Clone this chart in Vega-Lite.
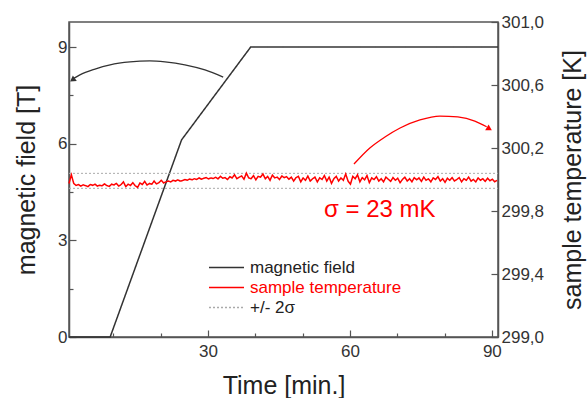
{
  "$schema": "https://vega.github.io/schema/vega-lite/v6.json",
  "width": 429,
  "height": 315,
  "autosize": {"type": "none"},
  "padding": {"left": 69, "top": 22, "right": 90, "bottom": 61},
  "background": "white",
  "config": {
    "font": "Liberation Sans",
    "view": {"stroke": "#555555", "strokeWidth": 1.5},
    "axis": {
      "domainColor": "#555555", "domainWidth": 1.5, "tickColor": "#555555", "tickWidth": 1.2,
      "labelFont": "Liberation Sans", "labelFontSize": 17, "labelColor": "#333333",
      "titleFont": "Liberation Sans", "titleFontSize": 25, "titleFontWeight": "normal", "titleColor": "#222222",
      "grid": false
    },
    "legend": {
      "orient": "none", "legendX": 139, "legendY": 237, "title": null,
      "symbolType": "stroke", "symbolSize": 1225, "symbolStrokeWidth": 1.5,
      "labelFont": "Liberation Sans", "labelFontSize": 17, "labelOffset": 5, "rowPadding": 2, "clipHeight": 17
    }
  },
  "datasets": {
    "field": [
      {"t": 0.6, "v": 0, "series": "magnetic field"},
      {"t": 9.3, "v": 0, "series": "magnetic field"},
      {"t": 24.4, "v": 6.12, "series": "magnetic field"},
      {"t": 39.0, "v": 9.0, "series": "magnetic field"},
      {"t": 91.3, "v": 9.0, "series": "magnetic field"}
    ],
    "arcB": [
      {"t": 33.2, "v": 8.07}, {"t": 29.35, "v": 8.29}, {"t": 25.1, "v": 8.45}, {"t": 20.9, "v": 8.54},
      {"t": 17.7, "v": 8.57}, {"t": 13.5, "v": 8.54}, {"t": 9.3, "v": 8.45}, {"t": 6.1, "v": 8.32},
      {"t": 2.9, "v": 8.14}, {"t": 1.6, "v": 8.03}
    ],
    "headB": [{"t": 1.5, "v": 8.0}],
    "arcR": [
      {"t": 60.85, "T": 300.098}, {"t": 64.2, "T": 300.2}, {"t": 67.4, "T": 300.27}, {"t": 70.6, "T": 300.327},
      {"t": 74.8, "T": 300.378}, {"t": 79.0, "T": 300.403}, {"t": 82.8, "T": 300.397}, {"t": 86.4, "T": 300.371},
      {"t": 88.9, "T": 300.335}
    ],
    "headR": [{"t": 89.3, "T": 300.325}],
    "note": [{"t": 66.3, "T": 299.806, "label": "σ = 23 mK"}],
    "sigma": [
      {"t": 0.6, "T": 300.039, "series": "+/- 2σ", "g": "hi"},
      {"t": 91.3, "T": 300.039, "series": "+/- 2σ", "g": "hi"},
      {"t": 0.6, "T": 299.944, "series": "+/- 2σ", "g": "lo"},
      {"t": 91.3, "T": 299.944, "series": "+/- 2σ", "g": "lo"}
    ],
    "temp": [
      {"t":0.6,"T":299.975},{"t":1.1,"T":300.03},{"t":1.6,"T":299.975},{"t":2.1,"T":299.962},{"t":2.6,"T":299.968},
      {"t":3.1,"T":299.958},{"t":3.6,"T":299.966},{"t":4.1,"T":299.961},{"t":4.6,"T":299.955},{"t":5.1,"T":299.968},
      {"t":5.6,"T":299.963},{"t":6.1,"T":299.97},{"t":6.6,"T":299.958},{"t":7.1,"T":299.964},{"t":7.6,"T":299.96},
      {"t":8.1,"T":299.972},{"t":8.6,"T":299.962},{"t":9.1,"T":299.956},{"t":9.6,"T":299.97},{"t":10.1,"T":299.965},
      {"t":10.6,"T":299.975},{"t":11.1,"T":299.958},{"t":11.6,"T":299.968},{"t":12.1,"T":299.985},{"t":12.6,"T":299.955},
      {"t":13.1,"T":299.97},{"t":13.6,"T":299.962},{"t":14.1,"T":299.98},{"t":14.6,"T":299.96},{"t":15.1,"T":299.95},
      {"t":15.6,"T":299.978},{"t":16.1,"T":299.968},{"t":16.6,"T":299.988},{"t":17.1,"T":299.965},{"t":17.6,"T":299.975},
      {"t":18.1,"T":299.97},{"t":18.6,"T":299.99},{"t":19.1,"T":299.972},{"t":19.6,"T":299.98},{"t":20.1,"T":299.995},
      {"t":20.6,"T":299.978},{"t":21.1,"T":299.985},{"t":21.6,"T":299.99},{"t":22.1,"T":299.985},{"t":22.6,"T":299.995},
      {"t":23.1,"T":299.99},{"t":23.6,"T":299.998},{"t":24.1,"T":299.99},{"t":24.6,"T":299.993},{"t":25.1,"T":300.0},
      {"t":25.6,"T":299.995},{"t":26.1,"T":300.003},{"t":26.6,"T":299.998},{"t":27.1,"T":300.005},{"t":27.6,"T":300.0},
      {"t":28.1,"T":300.01},{"t":28.6,"T":300.002},{"t":29.1,"T":300.008},{"t":29.6,"T":300.012},{"t":30.1,"T":300.004},
      {"t":30.6,"T":300.01},{"t":31.1,"T":300.006},{"t":31.6,"T":300.014},{"t":32.1,"T":300.004},{"t":32.6,"T":300.02},
      {"t":33.1,"T":300.008},{"t":33.6,"T":300.012},{"t":34.1,"T":300.0},{"t":34.6,"T":300.018},{"t":35.1,"T":300.01},
      {"t":35.6,"T":300.03},{"t":36.1,"T":300.005},{"t":36.6,"T":300.015},{"t":37.1,"T":300.022},{"t":37.6,"T":300.002},
      {"t":38.1,"T":300.04},{"t":38.6,"T":300.01},{"t":39.1,"T":300.005},{"t":39.6,"T":300.025},{"t":40.1,"T":299.998},
      {"t":40.6,"T":300.02},{"t":41.1,"T":300.015},{"t":41.6,"T":300.035},{"t":42.1,"T":300.005},{"t":42.6,"T":300.02},
      {"t":43.1,"T":299.995},{"t":43.6,"T":300.028},{"t":44.1,"T":300.01},{"t":44.6,"T":300.015},{"t":45.1,"T":300.0},
      {"t":45.6,"T":300.022},{"t":46.1,"T":300.012},{"t":46.6,"T":300.018},{"t":47.1,"T":300.002},{"t":47.6,"T":300.015},
      {"t":48.1,"T":299.99},{"t":48.6,"T":300.012},{"t":49.1,"T":300.02},{"t":49.6,"T":299.985},{"t":50.1,"T":300.01},
      {"t":50.6,"T":299.995},{"t":51.1,"T":300.022},{"t":51.6,"T":299.99},{"t":52.1,"T":300.005},{"t":52.6,"T":300.015},
      {"t":53.1,"T":299.985},{"t":53.6,"T":300.01},{"t":54.1,"T":300.0},{"t":54.6,"T":300.025},{"t":55.1,"T":299.99},
      {"t":55.6,"T":300.015},{"t":56.1,"T":299.975},{"t":56.6,"T":300.005},{"t":57.1,"T":300.02},{"t":57.6,"T":299.99},
      {"t":58.1,"T":300.01},{"t":58.6,"T":299.995},{"t":59.1,"T":300.035},{"t":59.6,"T":299.99},{"t":60.1,"T":299.97},
      {"t":60.6,"T":300.02},{"t":61.1,"T":300.005},{"t":61.6,"T":300.03},{"t":62.1,"T":299.985},{"t":62.6,"T":300.012},
      {"t":63.1,"T":299.998},{"t":63.6,"T":300.025},{"t":64.1,"T":299.98},{"t":64.6,"T":300.01},{"t":65.1,"T":300.0},
      {"t":65.6,"T":300.018},{"t":66.1,"T":299.99},{"t":66.6,"T":300.005},{"t":67.1,"T":299.985},{"t":67.6,"T":300.015},
      {"t":68.1,"T":300.002},{"t":68.6,"T":299.988},{"t":69.1,"T":300.012},{"t":69.6,"T":299.995},{"t":70.1,"T":300.008},
      {"t":70.6,"T":299.98},{"t":71.1,"T":300.0},{"t":71.6,"T":300.015},{"t":72.1,"T":299.99},{"t":72.6,"T":300.005},
      {"t":73.1,"T":299.985},{"t":73.6,"T":300.012},{"t":74.1,"T":299.998},{"t":74.6,"T":300.01},{"t":75.1,"T":299.988},
      {"t":75.6,"T":300.015},{"t":76.1,"T":299.995},{"t":76.6,"T":300.004},{"t":77.1,"T":299.985},{"t":77.6,"T":300.01},
      {"t":78.1,"T":300.0},{"t":78.6,"T":300.018},{"t":79.1,"T":299.99},{"t":79.6,"T":300.005},{"t":80.1,"T":299.982},
      {"t":80.6,"T":300.008},{"t":81.1,"T":299.995},{"t":81.6,"T":300.012},{"t":82.1,"T":299.99},{"t":82.6,"T":300.0},
      {"t":83.1,"T":300.012},{"t":83.6,"T":299.985},{"t":84.1,"T":300.005},{"t":84.6,"T":299.995},{"t":85.1,"T":300.015},
      {"t":85.6,"T":299.99},{"t":86.1,"T":300.0},{"t":86.6,"T":299.985},{"t":87.1,"T":300.01},{"t":87.6,"T":299.995},
      {"t":88.1,"T":300.005},{"t":88.6,"T":299.988},{"t":89.1,"T":300.008},{"t":89.6,"T":299.992},{"t":90.1,"T":300.002},
      {"t":90.6,"T":299.985},{"t":91.1,"T":299.995}
    ]
  },
  "resolve": {"scale": {"y": "independent"}},
  "layer": [
    {
      "layer": [
        {
          "data": {"name": "field"},
          "mark": {"type": "line", "strokeWidth": 1.5},
          "encoding": {
            "x": {"field": "t", "type": "quantitative", "scale": {"domain": [0.6, 91.3], "nice": false, "zero": false},
              "title": "Time [min.]",
              "axis": {"values": [10, 20, 30, 40, 50, 60, 70, 80, 90],
                "labelExpr": "datum.value % 30 === 0 ? datum.label : ''",
                "tickSize": {"condition": {"test": "datum.value % 30 === 0", "value": -7}, "value": -4},
                "labelPadding": 13, "titlePadding": 11, "labelFlush": false, "labelOverlap": false}},
            "y": {"field": "v", "type": "quantitative", "scale": {"domain": [0, 9.78], "nice": false, "zero": false},
              "title": "magnetic field [T]",
              "axis": {"orient": "left", "values": [0, 1.5, 3, 4.5, 6, 7.5, 9],
                "labelExpr": "datum.value % 3 === 0 ? datum.label : ''",
                "tickSize": {"condition": {"test": "datum.value % 3 === 0", "value": -7}, "value": -4},
                "labelPadding": 9, "titlePadding": 18, "labelFlush": false, "labelOverlap": false}},
            "color": {"field": "series", "type": "nominal",
              "scale": {"domain": ["magnetic field", "sample temperature", "+/- 2σ"], "range": ["#333333", "#ff0000", "#aaaaaa"]},
              "legend": {"encode": {"labels": {"update": {"fill": {"signal": "datum.label === 'sample temperature' ? '#ff0000' : '#222222'"}}}}}},
            "strokeDash": {"field": "series", "type": "nominal",
              "scale": {"domain": ["magnetic field", "sample temperature", "+/- 2σ"], "range": [[1, 0], [1, 0], [2, 2]]}}
          }
        },
        {
          "data": {"name": "arcB"},
          "mark": {"type": "line", "color": "#333333", "strokeWidth": 1.3, "interpolate": "monotone"},
          "encoding": {
            "x": {"field": "t", "type": "quantitative"},
            "y": {"field": "v", "type": "quantitative"}
          }
        },
        {
          "data": {"name": "headB"},
          "mark": {"type": "point", "shape": "triangle", "filled": true, "color": "#333333", "size": 45, "angle": 234, "opacity": 1},
          "encoding": {
            "x": {"field": "t", "type": "quantitative"},
            "y": {"field": "v", "type": "quantitative"}
          }
        }
      ]
    },
    {
      "layer": [
        {
          "data": {"name": "sigma"},
          "mark": {"type": "line", "strokeWidth": 1},
          "encoding": {
            "x": {"field": "t", "type": "quantitative"},
            "y": {"field": "T", "type": "quantitative", "scale": {"domain": [299, 301], "nice": false, "zero": false},
              "title": "sample temperature [K]",
              "axis": {"orient": "right", "values": [299.0, 299.2, 299.4, 299.6, 299.8, 300.0, 300.2, 300.4, 300.6, 300.8, 301.0],
                "labelExpr": "replace(format(datum.value, '.1f'), '.', ',')",
                "tickSize": -7,
                "labelPadding": 10, "titlePadding": 42, "titleAngle": 270, "labelFlush": false, "labelOverlap": "greedy", "labelSeparation": -25}},
            "detail": {"field": "g"},
            "color": {"field": "series", "type": "nominal"},
            "strokeDash": {"field": "series", "type": "nominal"}
          }
        },
        {
          "data": {"name": "temp"},
          "transform": [{"calculate": "'sample temperature'", "as": "series"}],
          "mark": {"type": "line", "strokeWidth": 1.5},
          "encoding": {
            "x": {"field": "t", "type": "quantitative"},
            "y": {"field": "T", "type": "quantitative"},
            "color": {"field": "series", "type": "nominal"},
            "strokeDash": {"field": "series", "type": "nominal"}
          }
        },
        {
          "data": {"name": "arcR"},
          "mark": {"type": "line", "color": "#ff0000", "strokeWidth": 1.3, "interpolate": "monotone"},
          "encoding": {
            "x": {"field": "t", "type": "quantitative"},
            "y": {"field": "T", "type": "quantitative"}
          }
        },
        {
          "data": {"name": "headR"},
          "mark": {"type": "point", "shape": "triangle", "filled": true, "color": "#ff0000", "size": 45, "angle": 121, "opacity": 1},
          "encoding": {
            "x": {"field": "t", "type": "quantitative"},
            "y": {"field": "T", "type": "quantitative"}
          }
        },
        {
          "data": {"name": "note"},
          "mark": {"type": "text", "color": "#ff0000", "fontSize": 24, "font": "Liberation Sans", "baseline": "middle", "align": "center"},
          "encoding": {
            "x": {"field": "t", "type": "quantitative"},
            "y": {"field": "T", "type": "quantitative"},
            "text": {"field": "label"}
          }
        }
      ]
    }
  ]
}
